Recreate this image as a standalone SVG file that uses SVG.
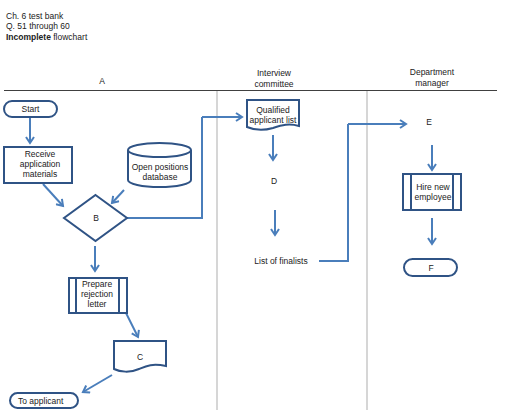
<svg xmlns="http://www.w3.org/2000/svg" width="506" height="418" viewBox="0 0 506 418">
<defs>
<marker id="ah" markerWidth="10" markerHeight="10" refX="7" refY="5" orient="auto" markerUnits="userSpaceOnUse">
<path d="M1,1 L7,5 L1,9" fill="none" stroke="#4a7ebb" stroke-width="2"/>
</marker>
</defs>
<style>
text{font-family:"Liberation Sans",Arial,sans-serif;font-size:8.5px;fill:#222}
.c{text-anchor:middle}
.n{fill:#fff;stroke:#2f5385;stroke-width:2}
.e{fill:none;stroke:#4a7ebb;stroke-width:2;marker-end:url(#ah)}
.l{fill:none;stroke:#4a7ebb;stroke-width:2}
.lane{stroke:#c8c8c8;stroke-width:1.5}
</style>
<rect width="506" height="418" fill="#fff"/>
<g id="header">
<text x="6" y="19">Ch. 6 test bank</text>
<text x="6" y="29">Q. 51 through 60</text>
<text x="6" y="40"><tspan font-weight="bold">Incomplete</tspan> flowchart</text>
</g>
<g id="lanes">
<line x1="4" y1="90.5" x2="497" y2="90.5" stroke="#404040" stroke-width="1.2"/>
<line class="lane" x1="217" y1="91" x2="217" y2="410"/>
<line class="lane" x1="367" y1="91" x2="367" y2="410"/>
<text class="c" x="102" y="84">A</text>
<text class="c" x="274" y="76">Interview</text>
<text class="c" x="274" y="87">committee</text>
<text class="c" x="432" y="75">Department</text>
<text class="c" x="432" y="86">manager</text>
</g>
<g id="connectors">
<path class="e" d="M30,118 V143"/>
<path class="e" d="M43,184 L63,206"/>
<path class="e" d="M124,190 L112,203"/>
<path class="l" d="M127,218 H202 V117"/>
<path class="e" d="M202,117 H242"/>
<path class="e" d="M95,246 V271"/>
<path class="e" d="M126,313 L138,337"/>
<path class="e" d="M112,375 L83,392"/>
<path class="e" d="M273,135 V160"/>
<path class="e" d="M275,210 V235"/>
<path class="l" d="M319,261 H348 V124"/>
<path class="e" d="M348,124 H406"/>
<path class="e" d="M432,145 V170"/>
<path class="e" d="M432,218 V244"/>
</g>
<g id="start">
<rect class="n" x="4" y="101" width="53" height="16" rx="8"/>
<text class="c" x="30.5" y="112">Start</text>
</g>
<g id="receive">
<rect class="n" x="4" y="147" width="68" height="36"/>
<text class="c" x="40" y="157">Receive</text>
<text class="c" x="40" y="167">application</text>
<text class="c" x="40" y="177">materials</text>
</g>
<g id="database">
<path class="n" d="M128,150 V180 A31.5,7 0 0 0 191,180 V150 A31.5,7 0 0 0 128,150 A31.5,7 0 0 0 191,150"/>
<text class="c" x="160" y="170">Open positions</text>
<text class="c" x="160" y="180">database</text>
</g>
<g id="B">
<path class="n" d="M95.5,195 L127,218 L95.5,241 L64,218 Z"/>
<text class="c" x="96" y="221">B</text>
</g>
<g id="reject">
<rect class="n" x="69" y="278" width="58" height="35"/>
<line class="n" x1="76" y1="278" x2="76" y2="313"/>
<line class="n" x1="119" y1="278" x2="119" y2="313"/>
<text class="c" x="97" y="287">Prepare</text>
<text class="c" x="97" y="297">rejection</text>
<text class="c" x="97" y="307">letter</text>
</g>
<g id="C">
<path class="n" d="M114,341 H166 V366 C152,363 146,366 139,369 C130,373 120,372 114,369 Z"/>
<text class="c" x="140" y="360">C</text>
</g>
<g id="toapplicant">
<rect class="n" x="10" y="393" width="68" height="15" rx="7.5"/>
<text x="18" y="404">To applicant</text>
</g>
<g id="qualified">
<path class="n" d="M247,100 H299 V126 C289,123 282,125 273,128 C263,131 254,130 247,127 Z"/>
<text class="c" x="273" y="113">Qualified</text>
<text class="c" x="273" y="123">applicant list</text>
</g>
<g id="D">
<text class="c" x="274" y="184">D</text>
</g>
<g id="finalists">
<text class="c" x="281" y="264">List of finalists</text>
</g>
<g id="E">
<text class="c" x="429" y="125">E</text>
</g>
<g id="hire">
<rect class="n" x="403" y="174" width="58" height="36"/>
<line class="n" x1="411" y1="174" x2="411" y2="210"/>
<line class="n" x1="453" y1="174" x2="453" y2="210"/>
<text class="c" x="433" y="190">Hire new</text>
<text class="c" x="433" y="200">employee</text>
</g>
<g id="F">
<rect class="n" x="404" y="259" width="53" height="17" rx="8.5"/>
<text class="c" x="431" y="271">F</text>
</g>
</svg>
